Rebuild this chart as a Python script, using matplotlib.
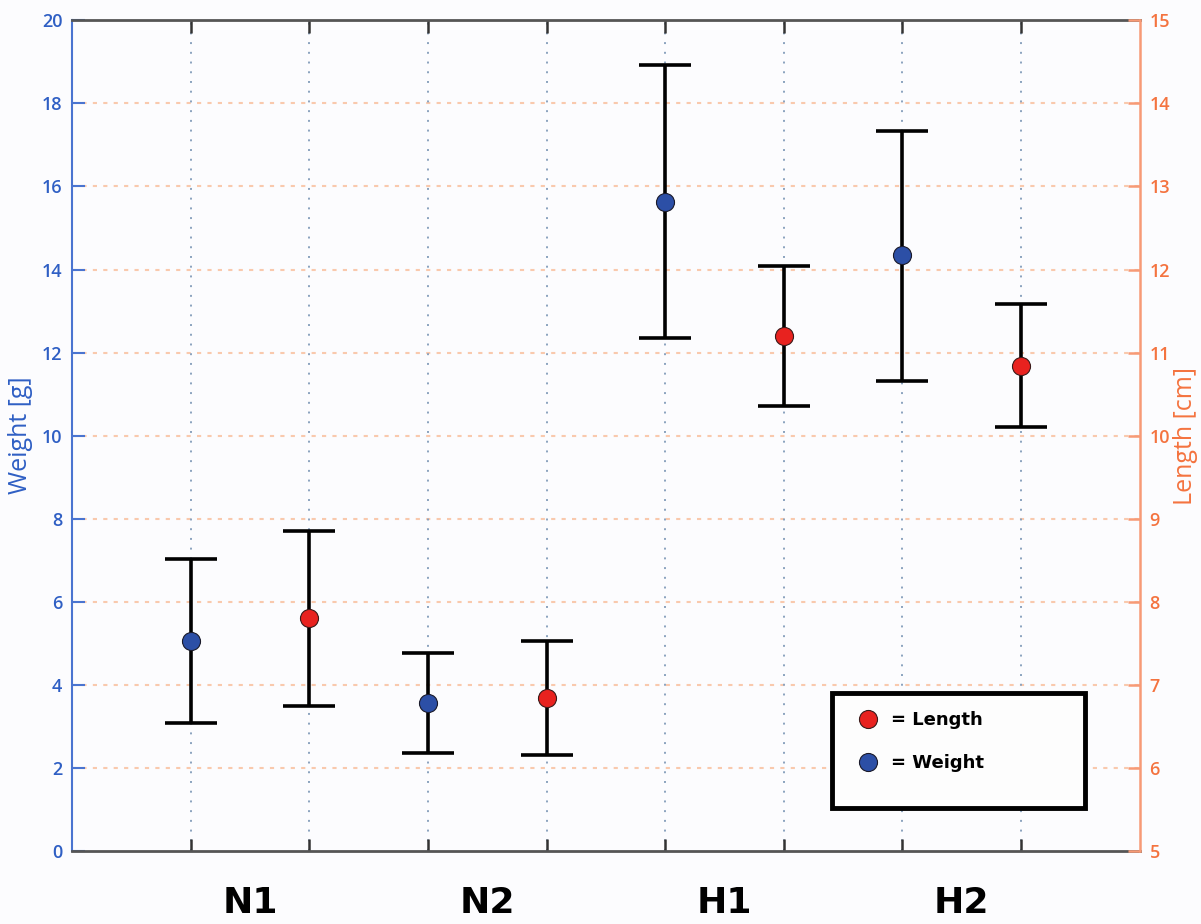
import matplotlib
matplotlib.use("Agg")
from matplotlib import pyplot as plt
from matplotlib.patches import Rectangle
from matplotlib.lines import Line2D
import matplotlib.transforms as mtransforms

# values
groups = ["N1", "N2", "H1", "H2"]
weight_mean = [5.05, 3.56, 15.63, 14.34]
weight_hi = [7.03, 4.77, 18.92, 17.34]
weight_lo = [3.07, 2.35, 12.35, 11.31]
length_mean = [7.80, 6.84, 11.20, 10.84]
length_hi = [8.85, 7.53, 12.04, 11.58]
length_lo = [6.75, 6.16, 10.36, 10.11]

blue_txt = "#2f5fc4"
orange_txt = "#f4733f"
blue_dot = "#2c4fa6"
red_dot = "#e8221f"

x_w = [2 * i + 1 for i in range(len(groups))]
x_l = [2 * i + 2 for i in range(len(groups))]

fig = plt.figure(figsize=(12.01, 9.24), dpi=100, facecolor="#fcfcfe")
ax = fig.add_axes([0.06, 0.079, 0.889, 0.899])
ax.set_facecolor("#fcfcfe")
ax2 = ax.twinx()

w_err = [[m - lo for m, lo in zip(weight_mean, weight_lo)],
         [hi - m for m, hi in zip(weight_mean, weight_hi)]]
l_err = [[m - lo for m, lo in zip(length_mean, length_lo)],
         [hi - m for m, hi in zip(length_mean, length_hi)]]

ax.errorbar(x_w, weight_mean, yerr=w_err, fmt="none", ecolor="black",
            elinewidth=2.6, capsize=19, capthick=2.6, zorder=4)
ax.plot(x_w, weight_mean, "o", markersize=13, markerfacecolor=blue_dot,
        markeredgecolor="#1a1a2a", markeredgewidth=0.8, zorder=5)
ax2.errorbar(x_l, length_mean, yerr=l_err, fmt="none", ecolor="black",
             elinewidth=2.6, capsize=19, capthick=2.6, zorder=4)
ax2.plot(x_l, length_mean, "o", markersize=13, markerfacecolor=red_dot,
         markeredgecolor="#3a1a1a", markeredgewidth=0.8, zorder=5)

ax.set_xlim(0, 9)
ax.set_ylim(0, 20)
ax2.set_ylim(5, 15)
ax.set_xticks(range(1, 9))
ax.set_xticklabels([])
ax.set_yticks(range(0, 21, 2))
ax2.set_yticks(range(5, 16))

# grids
for v in range(2, 20, 2):
    ax.axhline(v, color="#f9c9ad", linestyle=(0, (2, 3)), linewidth=1.5, zorder=0)
for v in range(1, 9):
    ax.axvline(v, color="#8aa2be", linestyle=(0, (1, 4)), linewidth=1.4, zorder=0)

# spines
ax.spines["left"].set_color("#4a74d0")
ax.spines["left"].set_linewidth(1.5)
ax.spines["bottom"].set_color("#555555")
ax.spines["bottom"].set_linewidth(2)
ax.spines["top"].set_color("#555555")
ax.spines["top"].set_linewidth(2)
ax.spines["top"].set_linestyle((0, (3, 1)))
ax.spines["right"].set_visible(False)
ax2.spines["right"].set_color("#f79a76")
ax2.spines["right"].set_linewidth(1.8)
for s in ["left", "top", "bottom"]:
    ax2.spines[s].set_visible(False)

ax.tick_params(axis="y", direction="in", length=9, width=1.5, colors="#4a74d0",
               labelcolor=blue_txt, labelsize=13, pad=7)
ax.tick_params(axis="x", direction="in", length=9, width=1.8, colors="#333333",
               top=True)
ax2.tick_params(axis="y", direction="in", length=9, width=1.8, colors="#f79a76",
                labelcolor=orange_txt, labelsize=13, pad=7)

for lab in ax.get_yticklabels() + ax2.get_yticklabels():
    lab.set_fontfamily("Open Sans")
    lab.set_fontweight("semibold")

ax.set_ylabel("Weight [g]", color=blue_txt, fontsize=18, family="Open Sans", labelpad=6)
ax2.set_ylabel("Length [cm]", color=orange_txt, fontsize=18, family="Open Sans", labelpad=2)

# group labels under each pair
trans = mtransforms.blended_transform_factory(ax.transData, ax.transAxes)
for i, g in enumerate(groups):
    ax.text((x_w[i] + x_l[i]) / 2, -0.063, g, transform=trans, ha="center", va="center",
            fontsize=26, fontweight="heavy", family="DejaVu Sans", color="black")

# legend in a thick box
box = Rectangle((0.7116, 0.0517), 0.237, 0.138, transform=ax.transAxes,
                facecolor="#fdfdfd", edgecolor="black", linewidth=3.5, zorder=6)
ax.add_patch(box)
handles = [Line2D([], [], linestyle="none", marker="o", markersize=13,
                  markerfacecolor=red_dot, markeredgecolor="#3a1a1a", markeredgewidth=0.8),
           Line2D([], [], linestyle="none", marker="o", markersize=13,
                  markerfacecolor=blue_dot, markeredgecolor="#1a1a2a", markeredgewidth=0.8)]
leg = ax.legend(handles, ["= Length", "= Weight"], loc="upper left",
                bbox_to_anchor=(0.7116, 0.1897), frameon=False,
                prop={"weight": "bold", "size": 13, "family": "DejaVu Sans"},
                handletextpad=0.3, labelspacing=1.35, borderpad=1.0,
                borderaxespad=0.0, handlelength=2.0)
leg.set_zorder(7)

plt.savefig("out.png", dpi=100, facecolor=fig.get_facecolor())
